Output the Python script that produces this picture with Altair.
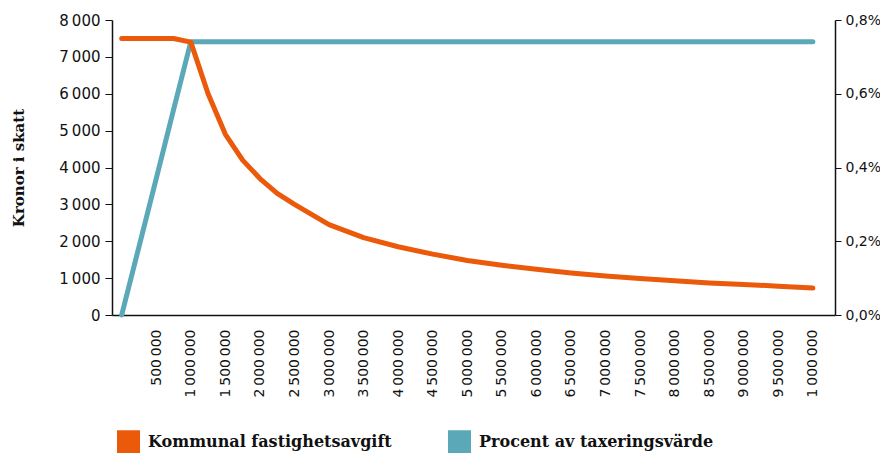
import altair as alt
import pandas as pd

# x positions (taxeringsvärde, kr)
x_values = [0, 250000, 500000, 750000, 1000000, 1250000, 1500000, 1750000,
            2000000, 2250000, 2500000, 3000000, 3500000, 4000000, 4500000,
            5000000, 5500000, 6000000, 6500000, 7000000, 7500000, 8000000,
            8500000, 9000000, 9500000, 10000000]

# orange series (read on right axis, in %)
avgift_pct = [0.75, 0.75, 0.75, 0.75, 0.74, 0.60, 0.49, 0.42,
              0.37, 0.33, 0.30, 0.245, 0.21, 0.185, 0.165,
              0.148, 0.135, 0.124, 0.114, 0.106, 0.099, 0.093,
              0.087, 0.083, 0.078, 0.073]

# teal series (read on left axis, kronor)
procent_kr = [0, 1850, 3700, 5560, 7410, 7410, 7410, 7410,
              7410, 7410, 7410, 7410, 7410, 7410, 7410,
              7410, 7410, 7410, 7410, 7410, 7410, 7410,
              7410, 7410, 7410, 7410]

x_ticks = [500000, 1000000, 1500000, 2000000, 2500000, 3000000, 3500000,
           4000000, 4500000, 5000000, 5500000, 6000000, 6500000, 7000000,
           7500000, 8000000, 8500000, 9000000, 9500000, 10000000]
x_tick_labels = ["500 000", "1 000 000", "1 500 000", "2 000 000",
                 "2 500 000", "3 000 000", "3 500 000", "4 000 000", "4 500 000",
                 "5 000 000", "5 500 000", "6 000 000", "6 500 000", "7 000 000",
                 "7 500 000", "8 000 000", "8 500 000", "9 000 000", "9 500 000",
                 "1 000 000"]
left_ticks = [0, 1000, 2000, 3000, 4000, 5000, 6000, 7000, 8000]
right_ticks = [0, 0.002, 0.004, 0.006, 0.008]

series = ["Kommunal fastighetsavgift", "Procent av taxeringsvärde"]
colors = ["#EB5A0A", "#5AA8B8"]

df_teal = pd.DataFrame({"x": x_values, "y": procent_kr, "serie": series[1]})
df_orange = pd.DataFrame({"x": x_values, "y": [v / 100 for v in avgift_pct], "serie": series[0]})

SANS = "DejaVu Sans"
SERIF = "DejaVu Serif"
THIN = "\u2009"

label_js = "[" + ",".join("'" + t.replace(" ", THIN) + "'" for t in x_tick_labels) + "]"
ticks_js = "[" + ",".join(str(v) for v in x_ticks) + "]"

xscale = alt.Scale(domain=[-140000, 10320000], nice=False, zero=False)
xaxis = alt.Axis(values=x_ticks, labelAngle=-90, ticks=False, labelPadding=14,
                 labelExpr=label_js + "[indexof(" + ticks_js + ", datum.value)]",
                 title=None, grid=False, labelFont=SANS, labelFontSize=14,
                 labelColor="#111", domainColor="#111", domainWidth=1.5,
                 labelOverlap=False)

color = alt.Color("serie:N", scale=alt.Scale(domain=series, range=colors),
                  legend=alt.Legend(title=None, orient="none", legendX=5, legendY=410,
                                    direction="horizontal", symbolType="square",
                                    symbolSize=64, symbolStrokeWidth=15,
                                    labelFont=SERIF, labelFontWeight="bold",
                                    labelFontSize=16, labelColor="#111",
                                    labelOffset=8, columnPadding=33,
                                    labelLimit=400))

line_kw = dict(strokeWidth=5, strokeCap="round", strokeJoin="round")

teal = alt.Chart(df_teal).mark_line(**line_kw).encode(
    x=alt.X("x:Q", scale=xscale, axis=xaxis),
    y=alt.Y("y:Q", scale=alt.Scale(domain=[0, 8000], nice=False),
            axis=alt.Axis(orient="left", values=left_ticks, grid=False,
                          title="Kronor i skatt", titleFont=SERIF, titleFontWeight="bold",
                          titleFontSize=15, titleColor="#111", titlePadding=32,
                          labelExpr="replace(format(datum.value, ','), ',', '" + THIN + "')",
                          labelFont=SANS, labelFontSize=15, labelColor="#111",
                          tickSize=7, tickColor="#111", domainColor="#111",
                          domainWidth=1.5, labelPadding=5)),
    color=color,
)

orange = alt.Chart(df_orange).mark_line(**line_kw).encode(
    x=alt.X("x:Q", scale=xscale, axis=xaxis),
    y=alt.Y("y:Q", scale=alt.Scale(domain=[0, 0.008], nice=False),
            axis=alt.Axis(orient="right", values=right_ticks, grid=False, title=None,
                          labelExpr="replace(format(datum.value, '.1%'), '.', ',')",
                          labelFont=SANS, labelFontSize=14, labelColor="#111",
                          tickSize=6, tickColor="#111", domainColor="#111",
                          domainWidth=1.5, labelPadding=4)),
    color=color,
)

chart = alt.layer(teal, orange).resolve_scale(y="independent").properties(
    width=723, height=295,
    autosize=alt.AutoSizeParams(type="none"),
    padding={"left": 104, "top": 12, "right": 45, "bottom": 138},
).configure_view(stroke=None)

chart.save("out.html", embed_options={"renderer": "svg", "actions": False})
